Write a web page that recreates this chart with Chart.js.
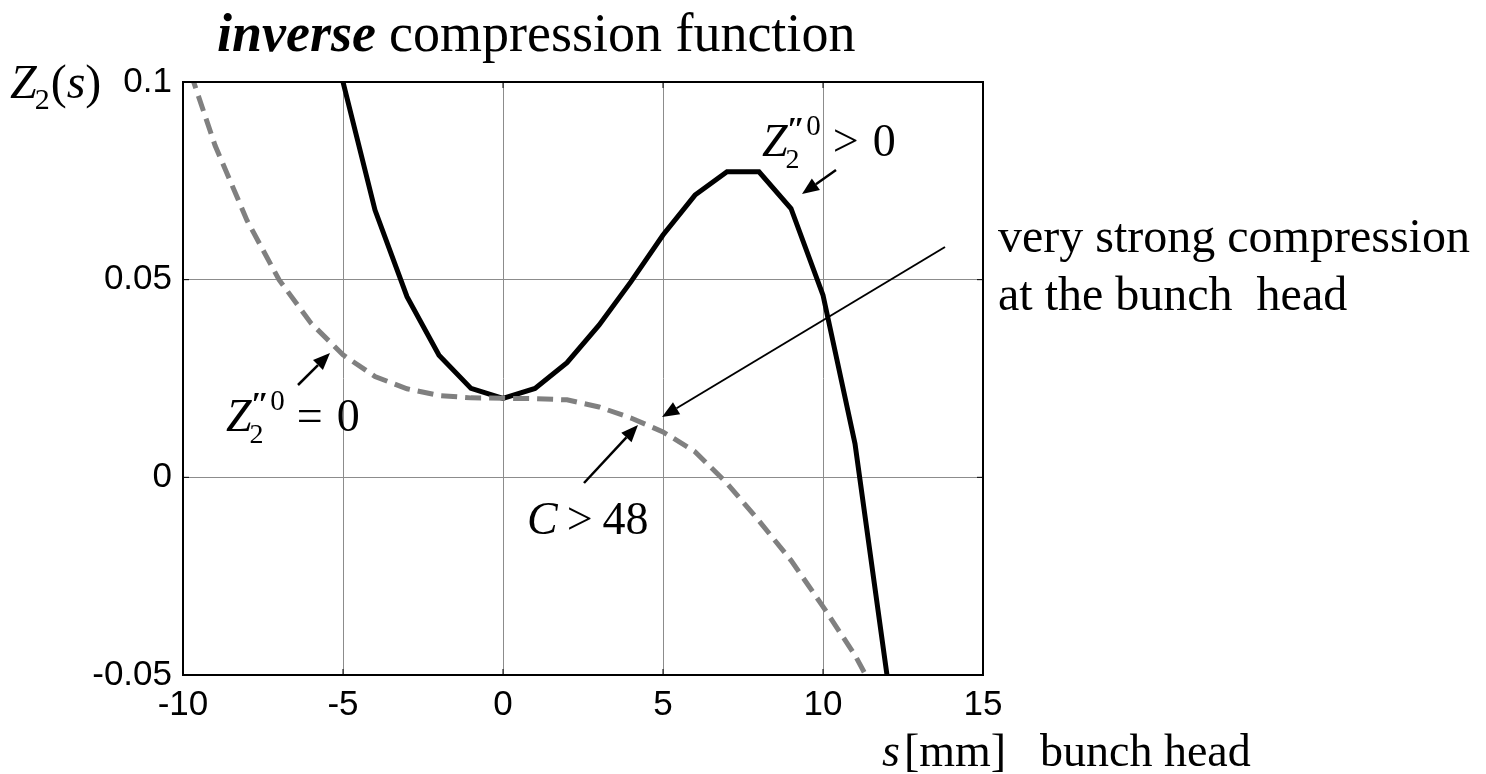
<!DOCTYPE html>
<html>
<head>
<meta charset="utf-8">
<title>inverse compression function</title>
<script src="https://cdn.jsdelivr.net/npm/chart.js@4.4.1/dist/chart.umd.min.js"></script>
<style>
  html, body { margin: 0; padding: 0; background: #fff; }
  #wrap { width: 1486px; height: 774px; position: relative; }
</style>
</head>
<body>
<div id="wrap"><canvas id="chart" width="1486" height="774"></canvas></div>
<script>
// s in mm, Z2(s) for the two cases
const sSolid = [-5, -4, -3, -2, -1, 0, 1, 2, 3, 4, 5, 6, 7, 8, 9, 10, 11, 12];
const zSolid = [0.100, 0.0676, 0.0457, 0.0309, 0.0225, 0.0200, 0.0225, 0.0290, 0.0385,
                0.0495, 0.0613, 0.0714, 0.0773, 0.0773, 0.0680, 0.0461, 0.0085, -0.050];

const sDashed = [-10, -9, -8, -7, -6, -5, -4, -3, -2, -1, 0, 1, 2, 3, 4, 5, 6, 7, 8, 9, 10, 11, 12];
const zDashed = [0.108, 0.084, 0.065, 0.050, 0.039, 0.031, 0.0255, 0.0224, 0.0207, 0.0201,
                 0.0200, 0.0199, 0.0196, 0.0178, 0.0150, 0.0115, 0.0065, -0.0015, -0.011,
                 -0.021, -0.0327, -0.045, -0.060];

const xTicks = [-10, -5, 0, 5, 10, 15];
const xTickLabels = ['-10', '-5', '0', '5', '10', '15'];
const yTicks = [-0.05, 0, 0.05, 0.1];
const yTickLabels = ['-0.05', '0', '0.05', '0.1'];

const SERIF = "'Liberation Serif', 'Times New Roman', serif";
const SANS = "'Liberation Sans', Arial, sans-serif";

const toPoints = (xs, ys) => xs.map((x, i) => ({ x: x, y: ys[i] }));

// draws a row of text pieces left to right; each piece may shift up/down
function drawRuns(ctx, x, y, runs) {
    let cx = x;
    runs.forEach(r => {
        ctx.font = r.font;
        ctx.fillText(r.t, cx, y + (r.dy || 0));
        cx += ctx.measureText(r.t).width + (r.gap || 0);
    });
    return cx;
}

// Z_2''^0 followed by a relation sign and 0
function drawZ2pp(ctx, x, y, rel) {
    ctx.font = 'italic 46px ' + SERIF;
    ctx.fillText('Z', x, y);
    let cx = x + ctx.measureText('Z').width - 3;
    ctx.font = '28px ' + SERIF;
    ctx.fillText('2', cx + 1, y + 12);
    const w2 = ctx.measureText('2').width;
    ctx.font = 'bold italic 34px ' + SERIF;
    ctx.fillText('\u2033', cx + 2, y - 16);
    const wp = ctx.measureText('\u2033').width;
    ctx.font = '29px ' + SERIF;
    ctx.fillText('0', cx + 3 + wp, y - 21);
    cx += Math.max(w2, 3 + wp + ctx.measureText('0').width) + 12;
    drawRuns(ctx, cx, y, [
        { t: rel, font: '46px ' + SERIF, gap: 14 },
        { t: '0', font: '46px ' + SERIF }
    ]);
}

function arrow(ctx, x1, y1, x2, y2, lw) {
    const a = Math.atan2(y2 - y1, x2 - x1);
    const len = 17, half = 7;
    const bx = x2 - len * Math.cos(a), by = y2 - len * Math.sin(a);
    ctx.strokeStyle = '#000';
    ctx.lineWidth = lw;
    ctx.beginPath();
    ctx.moveTo(x1, y1);
    ctx.lineTo(bx, by);
    ctx.stroke();
    ctx.fillStyle = '#000';
    ctx.beginPath();
    ctx.moveTo(x2, y2);
    ctx.lineTo(bx + half * Math.sin(a), by - half * Math.cos(a));
    ctx.lineTo(bx - half * Math.sin(a), by + half * Math.cos(a));
    ctx.closePath();
    ctx.fill();
}

// axes box with inward tick marks
const framePlugin = {
    id: 'frame',
    afterDatasetsDraw(chart) {
        const { ctx, chartArea: a, scales: { x, y } } = chart;
        ctx.save();
        ctx.strokeStyle = '#000';
        ctx.lineWidth = 1;
        xTicks.forEach(v => {
            const px = x.getPixelForValue(v);
            ctx.beginPath();
            ctx.moveTo(px, a.bottom); ctx.lineTo(px, a.bottom - 6);
            ctx.moveTo(px, a.top); ctx.lineTo(px, a.top + 6);
            ctx.stroke();
        });
        yTicks.forEach(v => {
            const py = y.getPixelForValue(v);
            ctx.beginPath();
            ctx.moveTo(a.left, py); ctx.lineTo(a.left + 6, py);
            ctx.moveTo(a.right, py); ctx.lineTo(a.right - 6, py);
            ctx.stroke();
        });
        ctx.lineWidth = 2;
        ctx.strokeRect(a.left, a.top, a.right - a.left, a.bottom - a.top);
        ctx.restore();
    }
};

// title, axis labels and the annotations
const notesPlugin = {
    id: 'notes',
    afterDraw(chart) {
        const ctx = chart.ctx;
        ctx.save();
        ctx.fillStyle = '#000';
        ctx.textBaseline = 'alphabetic';
        ctx.textAlign = 'left';

        drawRuns(ctx, 217, 51, [
            { t: 'inverse', font: 'bold italic 54px ' + SERIF, gap: 13 },
            { t: 'compression function', font: '54px ' + SERIF }
        ]);

        drawRuns(ctx, 10, 98, [
            { t: 'Z', font: 'italic 48px ' + SERIF, gap: -2 },
            { t: '2', font: '30px ' + SERIF, dy: 11, gap: 1 },
            { t: '(', font: '48px ' + SERIF },
            { t: 's', font: 'italic 48px ' + SERIF },
            { t: ')', font: '48px ' + SERIF }
        ]);

        drawRuns(ctx, 882, 766, [
            { t: 's', font: 'italic 46px ' + SERIF, gap: 4 },
            { t: '[mm]', font: '46px ' + SERIF }
        ]);
        ctx.font = '46px ' + SERIF;
        ctx.fillText('bunch head', 1040, 766);

        ctx.font = '48px ' + SERIF;
        ctx.fillText('very strong compression', 998, 252);
        ctx.fillText('at the bunch  head', 998, 310);

        drawZ2pp(ctx, 762, 156, '>');
        drawZ2pp(ctx, 226, 431, '=');

        drawRuns(ctx, 527, 534, [
            { t: 'C', font: 'italic 46px ' + SERIF, gap: 9 },
            { t: '>', font: '46px ' + SERIF, gap: 10 },
            { t: '48', font: '46px ' + SERIF }
        ]);

        arrow(ctx, 836, 170, 802, 194, 2.5);
        arrow(ctx, 945, 247, 662, 417, 2);
        arrow(ctx, 584, 483, 638, 425, 2.5);
        arrow(ctx, 298, 385, 330, 353, 2.5);
        ctx.restore();
    }
};

const ctx = document.getElementById('chart').getContext('2d');
new Chart(ctx, {
    type: 'line',
    data: {
        datasets: [{
            data: toPoints(sDashed, zDashed),
            borderColor: '#808080',
            borderWidth: 5,
            borderDash: [16, 8],
            borderCapStyle: 'butt',
            pointRadius: 0,
            tension: 0,
            clip: 0
        }, {
            data: toPoints(sSolid, zSolid),
            borderColor: '#000',
            borderWidth: 5,
            pointRadius: 0,
            tension: 0,
            clip: 0
        }]
    },
    options: {
        responsive: false,
        animation: false,
        devicePixelRatio: 1,
        layout: { padding: { top: 82, right: 503, left: 0, bottom: 0 } },
        plugins: {
            legend: { display: false },
            title: { display: false },
            tooltip: { enabled: false }
        },
        scales: {
            x: {
                type: 'linear',
                min: -10,
                max: 15,
                afterFit: s => { s.height = 99; },
                afterBuildTicks: s => { s.ticks = xTicks.map(v => ({ value: v })); },
                ticks: {
                    padding: 9,
                    maxRotation: 0,
                    color: '#000',
                    font: { family: SANS, size: 35 },
                    callback: v => xTickLabels[xTicks.indexOf(v)]
                },
                grid: { color: '#8c8c8c', lineWidth: 1, drawTicks: false },
                border: { display: false }
            },
            y: {
                type: 'linear',
                min: -0.05,
                max: 0.1,
                afterFit: s => { s.width = 183; },
                afterBuildTicks: s => { s.ticks = yTicks.map(v => ({ value: v })); },
                ticks: {
                    padding: 11,
                    color: '#000',
                    font: { family: SANS, size: 35 },
                    callback: v => yTickLabels[yTicks.findIndex(t => Math.abs(t - v) < 1e-9)]
                },
                grid: { color: '#8c8c8c', lineWidth: 1, drawTicks: false },
                border: { display: false }
            }
        }
    },
    plugins: [framePlugin, notesPlugin]
});
</script>
</body>
</html>
